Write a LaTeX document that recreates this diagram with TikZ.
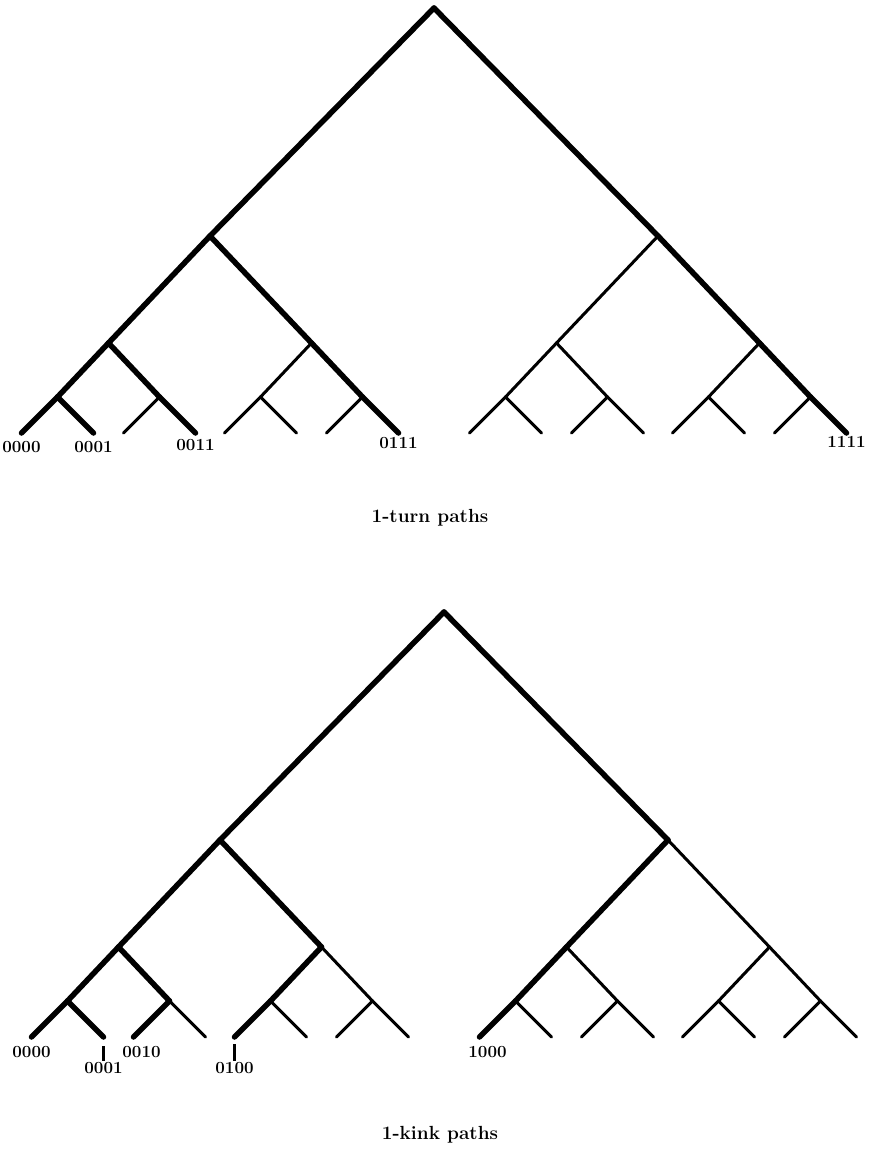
\documentclass[tikz,border=0pt]{standalone}
\usetikzlibrary{positioning}

\begin{document}
\begin{tikzpicture}[x=1pt, y=1pt, line cap=round,
        fat/.style={line width=5.5pt},
        fine/.style={line width=3pt},
        lab/.style={font=\fontsize{17}{19}\selectfont\bfseries, inner sep=1pt},
        caption/.style={font=\fontsize{19}{22}\selectfont\bfseries},
        tick/.style={line width=2.2pt, line cap=butt},
        level 1/.style={level distance=228pt, sibling distance=448pt},
        level 2/.style={level distance=107pt, sibling distance=203pt},
        level 3/.style={level distance=54pt, sibling distance=102pt},
        level 4/.style={level distance=36pt, sibling distance=72pt}]
    \useasboundingbox (0,0) rectangle (887,-1157);

    % 1-turn tree
    \coordinate (top) at (434,-8)
        child[fat] {coordinate
            child[fat] {coordinate
                child[fat] {coordinate
                    child[fat] {coordinate (t0000)}
                    child[fat] {coordinate (t0001)}}
                child[fat] {coordinate
                    child[fine] {coordinate}
                    child[fat] {coordinate (t0011)}}}
            child[fat] {coordinate
                child[fine] {coordinate
                    child[fine] {coordinate}
                    child[fine] {coordinate}}
                child[fat] {coordinate
                    child[fine] {coordinate}
                    child[fat] {coordinate (t0111)}}}}
        child[fat] {coordinate
            child[fine] {coordinate
                child[fine] {coordinate
                    child[fine] {coordinate}
                    child[fine] {coordinate}}
                child[fine] {coordinate
                    child[fine] {coordinate}
                    child[fine] {coordinate}}}
            child[fat] {coordinate
                child[fine] {coordinate
                    child[fine] {coordinate}
                    child[fine] {coordinate}}
                child[fat] {coordinate
                    child[fine] {coordinate}
                    child[fat] {coordinate (t1111)}}}};

    \node[lab, below=7pt of t0000] (lt0000) {0000};
    \node[lab, below=7pt of t0001] (lt0001) {0001};
    \node[lab, below=5pt of t0011] (lt0011) {0011};
    \node[lab, below=3pt of t0111] (lt0111) {0111};
    \node[lab, below=2pt of t1111] (lt1111) {1111};
    \node[caption] (cap1) at (430,-518) {1-turn paths};

    % 1-kink tree
    \coordinate (bot) at (444,-612)
        child[fat] {coordinate
            child[fat] {coordinate
                child[fat] {coordinate
                    child[fat] {coordinate (b0000)}
                    child[fat] {coordinate (b0001)}}
                child[fat] {coordinate
                    child[fat] {coordinate (b0010)}
                    child[fine] {coordinate}}}
            child[fat] {coordinate
                child[fat] {coordinate
                    child[fat] {coordinate (b0100)}
                    child[fine] {coordinate}}
                child[fine] {coordinate
                    child[fine] {coordinate}
                    child[fine] {coordinate}}}}
        child[fat] {coordinate
            child[fat] {coordinate
                child[fat] {coordinate
                    child[fat] {coordinate (b1000)}
                    child[fine] {coordinate}}
                child[fine] {coordinate
                    child[fine] {coordinate}
                    child[fine] {coordinate}}}
            child[fine] {coordinate
                child[fine] {coordinate
                    child[fine] {coordinate}
                    child[fine] {coordinate}}
                child[fine] {coordinate
                    child[fine] {coordinate}
                    child[fine] {coordinate}}}};

    \node[lab, below=8pt of b0000] (lb0000) {0000};
    \node[lab, below=24pt of b0001] (lb0001) {0001};
    \coordinate[below=9pt of b0001] (k0001);
    \draw[tick] (k0001) -- (lb0001);
    \node[lab, below=8pt of b0010, xshift=8pt] (lb0010) {0010};
    \node[lab, below=24pt of b0100] (lb0100) {0100};
    \coordinate[below=7pt of b0100] (k0100);
    \draw[tick] (k0100) -- (lb0100);
    \node[lab, below=8pt of b1000, xshift=8pt] (lb1000) {1000};
    \node[caption] (cap2) at (440,-1135) {1-kink paths};
\end{tikzpicture}
\end{document}
